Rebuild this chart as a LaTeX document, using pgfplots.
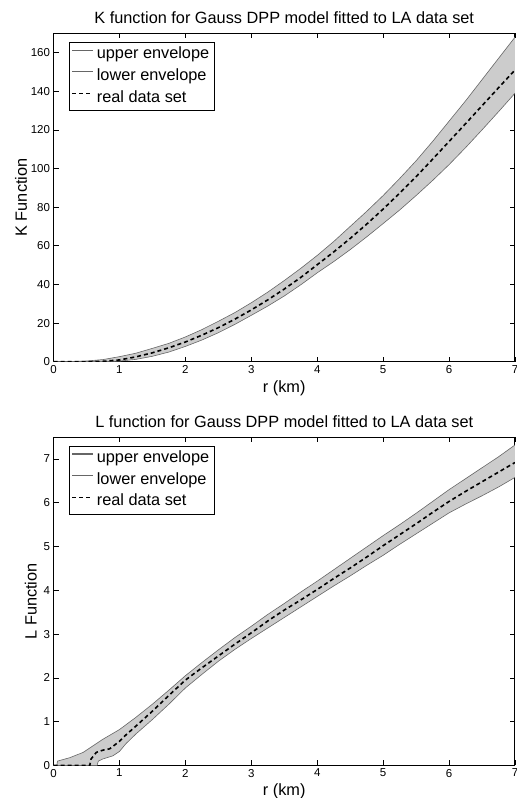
\documentclass[border=0pt]{standalone}
\usepackage{fontspec}
\setmainfont{Liberation Sans}
\usepackage{pgfplots}
\pgfplotsset{compat=1.18}
\usepackage{pgfplotstable}
\usepgfplotslibrary{fillbetween}

\definecolor{bandfill}{HTML}{CCCCCC}
\definecolor{envline}{HTML}{666666}

% K function envelopes and observed curve
\pgfplotstableread{
r K
0 0
0.25 0.05
0.5 0.35
0.75 1.1
1 2.6
1.25 4.4
1.5 6.9
1.75 9.5
2 12.8
2.25 16.6
2.5 20.9
2.75 25.4
3 30.5
3.25 36.0
3.5 42.0
3.75 48.3
4 55.0
4.25 62.2
4.5 70.0
4.75 77.8
5 86.0
5.25 94.8
5.5 104.0
5.75 114.0
6 124.5
6.25 135.0
6.5 146.0
6.75 157.0
7 168.0
}\kup
\pgfplotstableread{
r K
0 0
0.5 0
0.75 0.05
1 0.3
1.25 1.2
1.5 2.8
1.75 5.0
2 7.9
2.25 11.2
2.5 15.0
2.75 19.3
3 24.0
3.25 28.8
3.5 34.0
3.75 39.8
4 46.0
4.25 51.8
4.5 58.0
4.75 64.6
5 71.5
5.25 78.5
5.5 86.0
5.75 93.8
6 102.0
6.25 110.8
6.5 120.0
6.75 129.4
7 139.0
}\klo
\pgfplotstableread{
r K
0 0
0.5 0
0.75 0.2
1 0.9
1.25 2.5
1.5 4.6
1.75 7.2
2 10.2
2.25 13.7
2.5 17.6
2.75 22.0
3 26.8
3.25 32.0
3.5 37.6
3.75 43.6
4 50.2
4.25 56.8
4.5 63.8
4.75 71.2
5 79.0
5.25 87.2
5.5 95.8
5.75 104.8
6 114.0
6.25 123.2
6.5 132.5
6.75 141.8
7 151.0
}\kreal

% L function envelopes and observed curve
\pgfplotstableread{
r L
0 0
0.05 0
0.06 0.1
0.25 0.18
0.45 0.3
0.6 0.45
0.75 0.6
1 0.82
1.25 1.1
1.5 1.4
1.75 1.72
2 2.05
2.25 2.35
2.5 2.64
2.75 2.92
3 3.18
3.25 3.45
3.5 3.7
3.75 3.96
4 4.21
4.25 4.47
4.5 4.73
4.75 4.99
5 5.25
5.25 5.5
5.5 5.76
5.75 6.03
6 6.3
6.25 6.55
6.5 6.8
6.75 7.05
7 7.32
}\lup
\pgfplotstableread{
r L
0 0
0.66 0
0.68 0.1
0.75 0.15
0.9 0.22
1 0.32
1.1 0.5
1.25 0.72
1.5 1.05
1.75 1.4
2 1.77
2.25 2.08
2.5 2.38
2.75 2.65
3 2.9
3.25 3.14
3.5 3.38
3.75 3.62
4 3.86
4.25 4.1
4.5 4.33
4.75 4.57
5 4.8
5.25 5.05
5.5 5.29
5.75 5.53
6 5.77
6.25 5.97
6.5 6.16
6.75 6.36
7 6.58
}\llo
\pgfplotstableread{
r L
0 0
0.55 0
0.57 0.15
0.65 0.3
0.75 0.35
0.85 0.38
1 0.55
1.1 0.7
1.25 0.9
1.5 1.24
1.75 1.6
2 1.95
2.25 2.23
2.5 2.5
2.75 2.77
3 3.03
3.25 3.3
3.5 3.55
3.75 3.78
4 4.02
4.25 4.27
4.5 4.51
4.75 4.76
5 5.02
5.25 5.27
5.5 5.52
5.75 5.78
6 6.03
6.25 6.26
6.5 6.48
6.75 6.7
7 6.92
}\lreal

\pgfplotsset{
  envelope axis/.style={
    scale only axis,
    width=461.5bp, height=328.4bp,
    xmin=0, xmax=7, ymin=0,
    xtick={0,1,...,7},
    tick align=inside,
    major tick length=5bp,
    axis line style={line width=1bp},
    every tick/.append style={black, line width=0.6bp},
    tick label style={font=\fontsize{11.5bp}{13bp}\selectfont},
    label style={font=\fontsize{16.3bp}{19bp}\selectfont},
    title style={font=\fontsize{16.3bp}{19bp}\selectfont},
    /pgf/number format/assume math mode=true,
    xlabel={r (km)},
    legend cell align=left,
    legend image code/.code={\draw[##1] (0bp,4.5bp) -- (21bp,4.5bp);},
    legend style={at={(0.034,0.973)}, anchor=north west, draw=black,
      font=\fontsize{16.3bp}{19bp}\selectfont, inner xsep=2bp, inner ysep=1.5bp,
      nodes={inner sep=2.85bp, text height=12bp, text depth=4bp}, row sep=0pt},
  },
  envelope/.style={envline, line width=0.6bp},
}

\begin{document}
\begin{tikzpicture}
\begin{axis}[envelope axis, at={(53.5bp,436.3bp)}, anchor=south west,
  ymax=170, ytick={0,20,...,160}, ylabel={K Function}, ylabel shift=-3bp,
  title={K function for Gauss DPP model fitted to LA data set}]
\addlegendimage{envline, line width=1.1bp}
\addlegendimage{envline, line width=1.1bp}
\addlegendimage{black, line width=1.6bp, dash pattern=on 4bp off 3bp}
\addplot[name path=kupper, draw=none, forget plot] table[x=r, y=K] {\kup};
\addplot[name path=klower, draw=none, forget plot] table[x=r, y=K] {\klo};
\addplot[bandfill, draw=none, forget plot] fill between[of=kupper and klower];
\addplot[envelope, forget plot] table[x=r, y=K] {\kup};
\addplot[envelope, forget plot] table[x=r, y=K] {\klo};
\addplot[black, line width=1.6bp, dash pattern=on 4bp off 3bp, forget plot] table[x=r, y=K] {\kreal};
\legend{upper envelope, lower envelope, real data set}
\end{axis}

\begin{axis}[envelope axis, at={(53.5bp,32.5bp)}, anchor=south west,
  ymax=7.5, ytick={0,1,...,7}, ylabel={L Function},
  title={L function for Gauss DPP model fitted to LA data set}]
\addlegendimage{envline, line width=1.1bp}
\addlegendimage{envline, line width=1.1bp}
\addlegendimage{black, line width=1.6bp, dash pattern=on 4bp off 3bp}
\addplot[name path=lupper, draw=none, forget plot] table[x=r, y=L] {\lup};
\addplot[name path=llower, draw=none, forget plot] table[x=r, y=L] {\llo};
\addplot[bandfill, draw=none, forget plot] fill between[of=lupper and llower];
\addplot[envelope, forget plot] table[x=r, y=L] {\lup};
\addplot[envelope, forget plot] table[x=r, y=L] {\llo};
\addplot[black, line width=1.6bp, dash pattern=on 4bp off 3bp, forget plot] table[x=r, y=L] {\lreal};
\legend{upper envelope, lower envelope, real data set}
\end{axis}
\pgfresetboundingbox
\path (0bp,0bp) rectangle (517bp,798bp);
\end{tikzpicture}
\end{document}
